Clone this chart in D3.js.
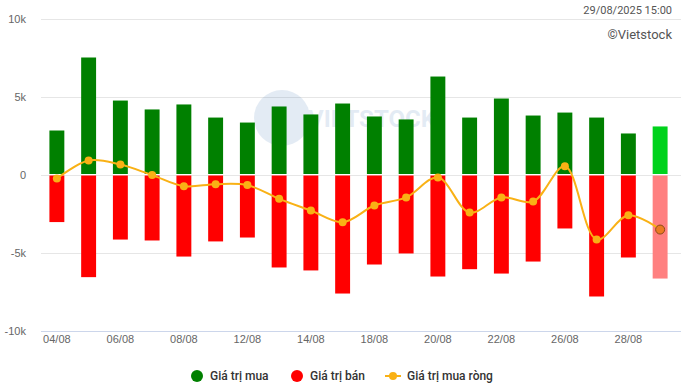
<!DOCTYPE html>
<html lang="vi">
  <head>
    <meta charset="UTF-8" />
    <title>Giá trị mua bán</title>
    <style>
      body { margin: 0; background: #fff; }
      svg { font-family: Roboto, sans-serif; display: block; }
      .tick text { fill: #666; font-size: 11px; }
    </style>
  </head>
  <body>
    <svg width="681" height="388"></svg>
    <script src="https://cdn.jsdelivr.net/npm/d3@7"></script>
    <script>
      const days = ['04/08', '05/08', '06/08', '07/08', '08/08', '11/08', '12/08', '13/08', '14/08', '15/08',
        '18/08', '19/08', '20/08', '21/08', '22/08', '25/08', '26/08', '27/08', '28/08', '29/08'];
      const buy = [2.82, 7.5, 4.74, 4.17, 4.49, 3.65, 3.33, 4.36, 3.85, 4.55,
        3.72, 3.53, 6.28, 3.65, 4.87, 3.78, 3.97, 3.65, 2.63, 3.08];
      const sell = [-3.05, -6.58, -4.17, -4.23, -5.26, -4.29, -4.04, -5.96, -6.15, -7.63,
        -5.77, -5.06, -6.54, -6.07, -6.35, -5.58, -3.46, -7.82, -5.32, -6.67];
      const net = [-0.26, 0.9, 0.64, -0.04, -0.75, -0.62, -0.68, -1.56, -2.31, -3.06,
        -1.99, -1.47, -0.19, -2.44, -1.47, -1.73, 0.53, -4.17, -2.61, -3.53];
      const yTicks = [-10, -5, 0, 5, 10];
      const shownDays = ['04/08', '06/08', '08/08', '12/08', '14/08', '18/08', '20/08', '22/08', '26/08', '28/08'];

      const svg = d3.select('svg');
      const left = 41, right = 681;

      const x = d3.scaleBand().domain(days).range([41, 676]).paddingInner(0.53).paddingOuter(0.265);
      const y = d3.scaleLinear().domain([-10, 10]).range([330.5, 18.5]);
      const last = days[days.length - 1];

      // gridlines
      svg.append('g')
        .selectAll('line')
        .data(yTicks)
        .join('line')
        .attr('x1', left).attr('x2', right)
        .attr('y1', d => Math.round(y(d)) + 0.5).attr('y2', d => Math.round(y(d)) + 0.5)
        .attr('stroke', d => (d === -10 ? '#ccd6eb' : '#e6e6e6'));

      // faint watermark
      const wm = svg.append('g').attr('opacity', 0.12);
      wm.append('circle').attr('cx', 282).attr('cy', 118).attr('r', 28).attr('fill', '#1f5fa8');
      wm.append('text').attr('x', 308).attr('y', 127).attr('fill', '#1f5fa8')
        .attr('font-size', 24).attr('font-weight', 'bold').text('VIETSTOCK');

      // y axis labels
      const yAxis = svg.append('g')
        .attr('transform', 'translate(26,0)')
        .call(d3.axisLeft(y).tickValues(yTicks).tickSize(0).tickPadding(0)
          .tickFormat(d => (d === 0 ? '0' : d + 'k')));
      yAxis.select('.domain').remove();

      // x axis labels
      const xAxis = svg.append('g')
        .attr('transform', 'translate(0,335)')
        .call(d3.axisBottom(x).tickValues(shownDays).tickSize(0).tickPadding(0));
      xAxis.select('.domain').remove();
      xAxis.selectAll('text').attr('dy', '0.71em');

      // bars
      svg.append('g')
        .selectAll('rect')
        .data(days)
        .join('rect')
        .attr('x', d => x(d))
        .attr('width', x.bandwidth())
        .attr('y', (d, i) => y(buy[i]))
        .attr('height', (d, i) => y(0) - y(buy[i]) - 0.5)
        .attr('fill', d => (d === last ? '#00d21c' : '#008000'));

      svg.append('g')
        .selectAll('rect')
        .data(days)
        .join('rect')
        .attr('x', d => x(d))
        .attr('width', x.bandwidth())
        .attr('y', y(0) + 1)
        .attr('height', (d, i) => y(sell[i]) - y(0) - 1)
        .attr('fill', d => (d === last ? '#ff8080' : '#ff0000'));

      // net line
      const cx = d => x(d) + x.bandwidth() / 2;
      const line = d3.line()
        .x(d => cx(d))
        .y((d, i) => y(net[i]))
        .curve(d3.curveCatmullRom.alpha(0.5));
      svg.append('path')
        .datum(days)
        .attr('d', line)
        .attr('fill', 'none')
        .attr('stroke', '#f9b115')
        .attr('stroke-width', 2);

      svg.append('g')
        .selectAll('circle')
        .data(days)
        .join('circle')
        .attr('cx', d => cx(d))
        .attr('cy', (d, i) => y(net[i]))
        .attr('r', d => (d === last ? 4.5 : 4))
        .attr('fill', d => (d === last ? '#ec7a22' : '#f9b115'))
        .attr('stroke', d => (d === last ? '#8a4a17' : 'none'))
        .attr('stroke-width', 1);

      // header texts
      svg.append('text').attr('x', 672).attr('y', 14).attr('text-anchor', 'end')
        .attr('fill', '#555').attr('font-size', 11).text('29/08/2025 15:00');
      svg.append('text').attr('x', 672).attr('y', 39).attr('text-anchor', 'end')
        .attr('fill', '#555').attr('font-size', 13).text('©Vietstock');

      // legend
      const legend = svg.append('g').attr('font-size', 12).attr('fill', '#333').attr('font-weight', 500);
      legend.append('circle').attr('cx', 197).attr('cy', 376).attr('r', 6).attr('fill', '#008000');
      legend.append('text').attr('x', 210).attr('y', 380).text('Giá trị mua');
      legend.append('circle').attr('cx', 297).attr('cy', 376).attr('r', 6).attr('fill', '#ff0000');
      legend.append('text').attr('x', 310).attr('y', 380).text('Giá trị bán');
      legend.append('line').attr('x1', 385).attr('x2', 401).attr('y1', 376).attr('y2', 376)
        .attr('stroke', '#f9b115').attr('stroke-width', 2);
      legend.append('circle').attr('cx', 393).attr('cy', 376).attr('r', 4).attr('fill', '#f9b115');
      legend.append('text').attr('x', 407).attr('y', 380).text('Giá trị mua ròng');
    </script>
  </body>
</html>
